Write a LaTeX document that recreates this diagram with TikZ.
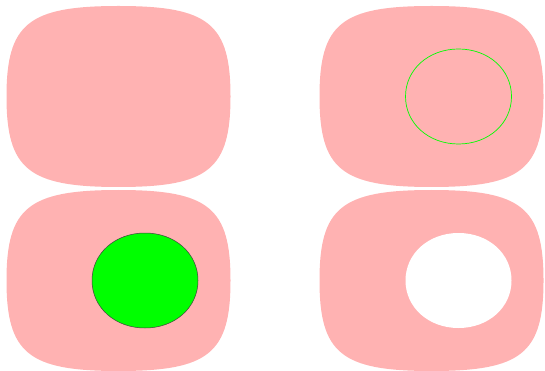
\documentclass[tikz,border=0pt]{standalone}
\begin{document}
\begin{tikzpicture}[x=1pt,y=-1pt,line width=0.4pt,
  blob/.style={fill=red!30},
  ring/.style={draw=green,line width=0.7pt},
  disc/.style={fill=green,draw=black!75,line width=0.5pt},
  hole/.style={fill=white}]
\path (0,0) rectangle (545,371);
\coordinate (A) at (118.5,96.5);
\coordinate (B) at (431.5,96.5);
\coordinate (C) at (118.5,280.5);
\coordinate (D) at (431.5,280.5);
\coordinate (b) at (458.5,96.5);
\coordinate (c) at (145,280.5);
\coordinate (d) at (458.5,280.5);
\foreach \c in {A,B,C,D}
  \fill[blob,shift={(\c)}] (-112,0) .. controls (-112,-73) and (-90,-90.5) .. (0,-90.5)
    .. controls (90,-90.5) and (112,-73) .. (112,0)
    .. controls (112,73) and (90,90.5) .. (0,90.5)
    .. controls (-90,90.5) and (-112,73) .. (-112,0) -- cycle;
\foreach \c/\s in {b/ring,c/disc,d/hole}
  \path[\s,shift={(\c)}] (-53,0) .. controls (-53,-27) and (-30,-47.5) .. (0,-47.5)
    .. controls (30,-47.5) and (53,-27) .. (53,0)
    .. controls (53,27) and (30,47.5) .. (0,47.5)
    .. controls (-30,47.5) and (-53,27) .. (-53,0) -- cycle;
\end{tikzpicture}
\end{document}
